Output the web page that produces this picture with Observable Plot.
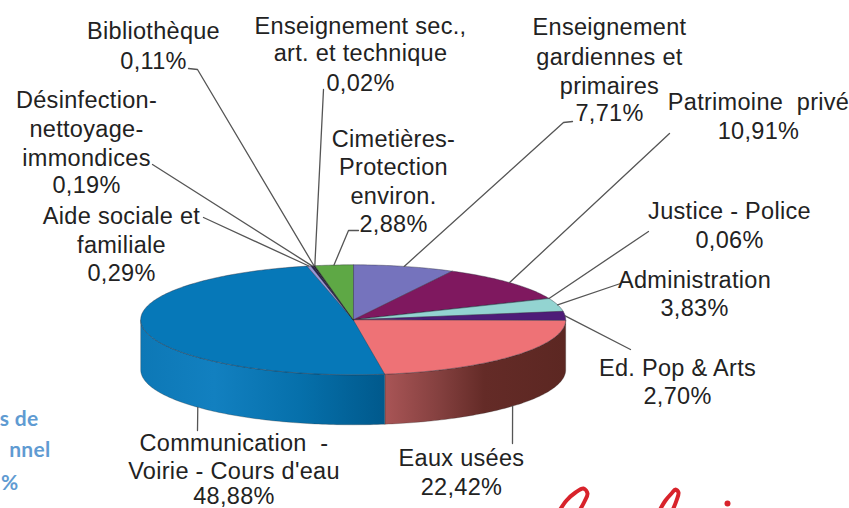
<!DOCTYPE html>
<html><head><meta charset="utf-8">
<style>html,body{margin:0;padding:0;background:#fff}svg{display:block}</style>
<script src="https://cdn.jsdelivr.net/npm/d3@7"></script>
<script src="https://cdn.jsdelivr.net/npm/@observablehq/plot@0.6"></script>
</head><body><script>
// ---- data
const names = ["Enseignement gardiennes et primaires","Patrimoine privé","Justice - Police","Administration","Ed. Pop & Arts","Eaux usées","Communication - Voirie - Cours d'eau","Aide sociale et familiale","Désinfection-nettoyage-immondices","Bibliothèque","Enseignement sec., art. et technique","Cimetières-Protection environ."];
const shares = [7.71,10.91,0.06,3.83,2.70,22.42,48.88,0.29,0.19,0.11,0.02,2.88];
const labelLines = [
  ["Enseignement","gardiennes et","primaires","7,71%"],
  ["Patrimoine  privé","10,91%"],
  ["Justice - Police","0,06%"],
  ["Administration","3,83%"],
  ["Ed. Pop & Arts","2,70%"],
  ["Eaux usées","22,42%"],
  ["Communication  -","Voirie - Cours d'eau","48,88%"],
  ["Aide sociale et","familiale","0,29%"],
  ["Désinfection-","nettoyage-","immondices","0,19%"],
  ["Bibliothèque","0,11%"],
  ["Enseignement sec.,","art. et technique","0,02%"],
  ["Cimetières-","Protection","environ.","2,88%"]
];
// ---- styling and layout (separate from the values)
const colors = ["#7573bd","#7f185f","#4b4b9b","#93d4d1","#4e1c78","#ee7276","#0678b8","#9a97d6","#2a2050","#151515","#222222","#5ea845"];
const sideFill = {5:"url(#sideEaux)",6:"url(#sideComm)"};
const cx = 352.7, cy = 319.3, rx = 212.5, ry = 55, depth = 50;
const labelX = [609,758,729,694,677,461,233.5,121,86,153,360,393];
const labelY = [[27,57,86,113],[102,131],[211,240],[280,308],[368,396],[458,487],[443,471,496],[216,245,273],[100,129,158,185],[31,61],[26,53,83],[139,167,196,224]];
// leader: outer end(s) next to the label, in page pixels; the inner end comes from the slice
const leaderEnds = [[[572,121],[563,122]],[[669,133]],[[648,231]],[[620,283]],[[630,349]],[[512,443]],[[197,430]],[[203,217]],[[152,164]],[[188,68],[197,69]],[[323,89]],[[358,230],[348,230]]];
const onSide = {5:true,6:true};
const anchorTurn = {5:131.4,6:227};
const blueLines = ["s de","nnel","%"], blueX = [38,50,18], blueY = [419,450,483];
const sigX = [[559,566,575,583,587,584,579],[659,665,671,675,678,676,672]], sigY = [[510,500,492,488,493,501,510],[510,500,493,489,492,500,510]];
const dotX = [727], dotY = [503];

const pt = (deg, dz=0) => { const t = deg*Math.PI/180; return [cx+rx*Math.sin(t), cy-ry*Math.cos(t)+dz]; };
let cum = 0;
const slices = shares.map((s,i)=>{const a0=cum*3.6; cum+=s; const a1=cum*3.6; return {i,name:names[i],a0,a1,mid:(a0+a1)/2};});
const arc = (a0,a1,dz=0)=>{const n=Math.max(1,Math.ceil(a1-a0)); return d3.range(n+1).map(k=>pt(a0+(a1-a0)*k/n,dz));};
const row = name => ([x,y])=>({name,x,y});
const topRows = slices.flatMap(s=>[[cx,cy],...arc(s.a0,s.a1)].map(row(s.name)));
const sideRows = i => {const s=slices[i]; const a1=Math.min(s.a1,270), a0=Math.max(s.a0,90);
  return [...arc(a0,a1),...arc(a0,a1,depth).reverse()].map(row(s.name));};
const leaderRows = slices.flatMap(s=>{
  const a = anchorTurn[s.i] ?? s.mid;
  return [...leaderEnds[s.i], pt(a,onSide[s.i]?depth:0)].map(row(s.name));
});
const labelRows = labelLines.flatMap((ls,i)=>ls.map((t,k)=>({t,x:labelX[i],y:labelY[i][k]})));
const sigRows = sigX.flatMap((xs,j)=>xs.map((x,k)=>({j,x,y:sigY[j][k]})));
const blueRows = blueLines.map((t,i)=>({t,x:blueX[i],y:blueY[i]}));

const gradients = () => {
  const g = d3.create("svg:defs");
  const add=(id,stops)=>{const l=g.append("linearGradient").attr("id",id);
    stops.forEach(([o,c])=>l.append("stop").attr("offset",o).attr("stop-color",c));};
  add("sideComm",[[0,"#0d78b6"],[0.3,"#1280c0"],[0.65,"#0670ab"],[1,"#00598c"]]);
  add("sideEaux",[[0,"#a95556"],[0.3,"#84403f"],[0.55,"#642b27"],[1,"#5c2722"]]);
  return g.node();
};

const plot = Plot.plot({
  width:849,height:508,margin:0,
  x:{domain:[0,849],range:[0,849],axis:null},
  y:{domain:[0,508],range:[0,508],axis:null},
  color:{type:"ordinal",domain:names,range:colors},
  style:{fontFamily:"'Liberation Sans',Arial,sans-serif",background:"#fff",letterSpacing:"0.3px"},
  marks:[
    gradients,
    ...[5,6].map(i=>Plot.line(sideRows(i),{x:"x",y:"y",fill:sideFill[i],stroke:"#2a2a2a",strokeOpacity:.35,strokeWidth:.8,curve:"linear-closed"})),
    Plot.line(topRows,{x:"x",y:"y",z:"name",fill:"name",stroke:"#2b2b3a",strokeOpacity:.5,strokeWidth:.8,curve:"linear-closed"}),
    Plot.line(leaderRows,{x:"x",y:"y",z:"name",stroke:"#555",strokeWidth:1.3}),
    Plot.text(labelRows,{x:"x",y:"y",text:"t",fontSize:23.5,fill:"#222",textAnchor:"middle",lineAnchor:"middle"}),
    Plot.text(blueRows,{x:"x",y:"y",text:"t",fontSize:21,fontWeight:"bold",fontFamily:"Lato, sans-serif",fill:"#5f9bd2",textAnchor:"end",lineAnchor:"middle"}),
    Plot.line(sigRows,{x:"x",y:"y",z:"j",stroke:"#d8232b",strokeWidth:4,curve:"catmull-rom"}),
    Plot.dot(dotX.map((x,i)=>({x,y:dotY[i]})),{x:"x",y:"y",r:3,fill:"#d8232b"})
  ]
});
document.body.appendChild(plot);
</script></body></html>
